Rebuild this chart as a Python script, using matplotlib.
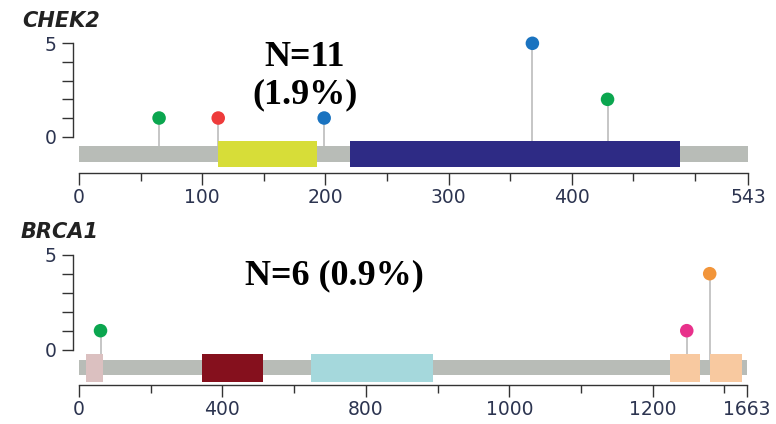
import matplotlib
matplotlib.use('Agg')
import matplotlib.pyplot as plt

# CHEK2 protein (543 aa)
chek2_length = 543
chek2_domains = [(113, 193), (220, 488)]
chek2_domain_colors = ['#d7dd38', '#2e2b85']
chek2_pos = [65, 113, 199, 368, 429]
chek2_count = [1, 1, 1, 5, 2]
chek2_colors = ['#0ba64f', '#ee3b3b', '#1a73c0', '#1a73c0', '#0ba64f']
chek2_ticks = [0, 100, 200, 300, 400, 543]
chek2_ticklabels = ['0', '100', '200', '300', '400', '543']
chek2_minor = [50, 150, 250, 350, 450, 500]

# BRCA1 protein (axis as drawn in the figure)
brca1_length = 1863
brca1_domains = [(20, 66), (343, 513), (646, 987), (1648, 1731), (1759, 1850)]
brca1_domain_colors = ['#dbc0c0', '#85101d', '#a5d8dc', '#f8c9a0', '#f8c9a0']
brca1_pos = [60, 1695, 1759]
brca1_count = [1, 1, 4]
brca1_colors = ['#0ba64f', '#e8318b', '#f2953a']
brca1_ticks = [0, 400, 800, 1200, 1600, 1863]
brca1_ticklabels = ['0', '400', '800', '1000', '1200', '1663']
brca1_minor = [200, 600, 1000, 1400, 1800]

W, H = 776, 424
fig = plt.figure(figsize=(W / 100, H / 100), dpi=100)
label_color = '#2c3450'


def px_box(x0, y0, x1, y1):
    return [x0 / W, 1 - y1 / H, (x1 - x0) / W, (y1 - y0) / H]


def draw_gene(box, length, ylim, bar_y, dom_y, domains, dom_colors,
              pos, count, colors, ticks, ticklabels, minor):
    ax = fig.add_axes(box)
    ax.set_xlim(0, length)
    ax.set_ylim(*ylim)
    # backbone and domains
    ax.broken_barh([(0, length)], bar_y, facecolors='#b8bcb7', zorder=2)
    ax.broken_barh([(a, b - a) for a, b in domains], dom_y,
                   facecolors=dom_colors, zorder=3)
    # lollipops
    stem_base = bar_y[0] + bar_y[1]
    ax.vlines(pos, stem_base, count, colors='#bcbcbc', linewidth=1.2, zorder=1)
    ax.scatter(pos, count, s=95, c=colors, zorder=4, clip_on=False, linewidths=0)

    for s in ['top', 'right']:
        ax.spines[s].set_visible(False)
    ax.spines['left'].set_bounds(0, 5)
    ax.spines['left'].set_position(('outward', 4.3))
    ax.spines['bottom'].set_bounds(0, length)
    for s in ['left', 'bottom']:
        ax.spines[s].set_color('#333333')
        ax.spines[s].set_linewidth(1.0)

    ax.set_yticks(range(6))
    ax.set_yticklabels(['0', '', '', '', '', '5'])
    ax.set_xticks(ticks)
    ax.set_xticklabels(ticklabels)
    ax.set_xticks(minor, minor=True)
    ax.tick_params(axis='y', length=8, width=1.0, color='#333333',
                   labelsize=13.5, labelcolor=label_color, pad=4)
    ax.tick_params(axis='x', which='major', length=8.5, width=1.0,
                   color='#333333', labelsize=13.5, labelcolor=label_color, pad=2.5)
    ax.tick_params(axis='x', which='minor', length=6, width=1.0, color='#333333')
    ax.patch.set_visible(False)
    return ax


draw_gene(px_box(79, 37.7, 748, 172.75), chek2_length, (-1.93, 5.3),
          (-1.338, 0.856), (-1.606, 1.392), chek2_domains, chek2_domain_colors,
          chek2_pos, chek2_count, chek2_colors, chek2_ticks, chek2_ticklabels,
          chek2_minor)

draw_gene(px_box(79, 249, 747, 385.2), brca1_length, (-1.87, 5.3),
          (-1.347, 0.821), (-1.70, 1.458), brca1_domains, brca1_domain_colors,
          brca1_pos, brca1_count, brca1_colors, brca1_ticks, brca1_ticklabels,
          brca1_minor)

# gene names
fig.text(61 / W, 1 - 21 / H, 'CHEK2', fontsize=15, fontweight='bold',
         fontstyle='italic', color='#222222', ha='center', va='center')
fig.text(60 / W, 1 - 232 / H, 'BRCA1', fontsize=15, fontweight='bold',
         fontstyle='italic', color='#222222', ha='center', va='center')

# counts
fig.text(305 / W, 1 - 76 / H, 'N=11\n(1.9%)', fontsize=26, fontweight='bold',
         family='Liberation Serif', ha='center', va='center', linespacing=1.2)
fig.text(334 / W, 1 - 276 / H, 'N=6 (0.9%)', fontsize=26, fontweight='bold',
         family='Liberation Serif', ha='center', va='center')

fig.savefig('out.png', dpi=100)
